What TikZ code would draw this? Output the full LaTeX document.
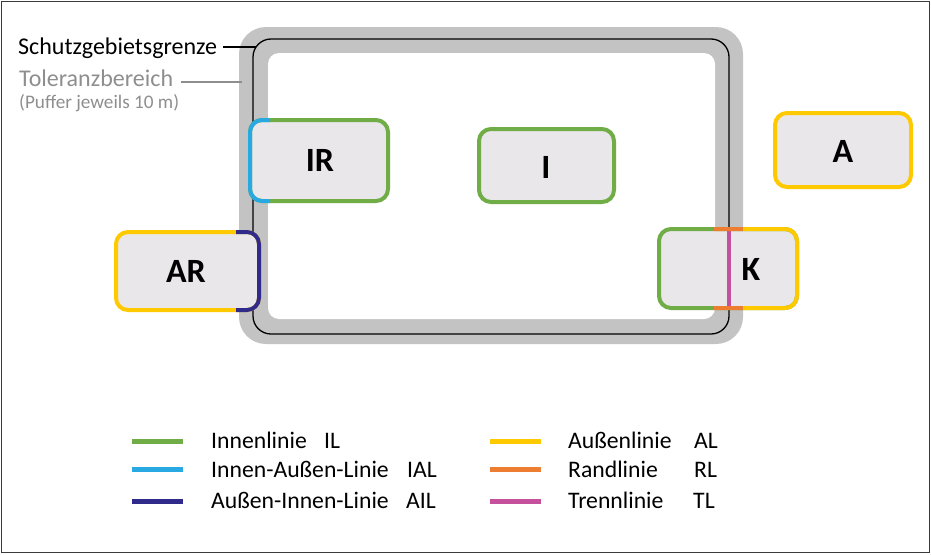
\documentclass[tikz,border=0pt]{standalone}
\usepackage{fontspec}
\setmainfont{Carlito}
\definecolor{cgreen}{HTML}{70AD47}
\definecolor{cblue}{HTML}{29A9E1}
\definecolor{cnavy}{HTML}{302A8A}
\definecolor{cyellow}{HTML}{FFC900}
\definecolor{corange}{HTML}{ED7D31}
\definecolor{cpink}{HTML}{C5509C}
\definecolor{cband}{HTML}{C3C3C3}
\definecolor{cfill}{HTML}{E9E7EA}
\definecolor{ctol}{HTML}{8E8E8E}
\definecolor{cframe}{HTML}{3A3A3A}
\begin{document}
\begin{tikzpicture}[x=1pt,y=-1pt,
  box/.style={draw, line width=4pt, fill=cfill, rounded corners=12pt, inner sep=0pt, outer sep=0pt},
  boxlabel/.style={font=\bfseries\fontsize{34}{36}\selectfont, inner sep=0pt},
  overlay/.style={line width=4pt, rounded corners=12pt},
  toplabel/.style={font=\fontsize{24}{27}\selectfont, inner sep=0pt, anchor=base west},
  legtext/.style={font=\fontsize{23.7}{26}\selectfont, inner sep=0pt, anchor=base west},
  legline/.style={line width=5pt}]
\useasboundingbox (0,0) rectangle (931,554);
\draw[cframe, line width=1.5pt] (1.5,1.5) rectangle (929.5,552.5);
% tolerance band and boundary
\fill[cband, rounded corners=27pt] (239,27) rectangle (743,344);
\fill[white, rounded corners=11pt] (268,53) rectangle (715,319);
\draw[black, line width=1.3pt, rounded corners=18pt] (253,39) rectangle (729,334);
% labels top left
\node[toplabel] (sg) at (18,54) {Schutzgebietsgrenze};
\node[toplabel, text=ctol] (tb) at (19,86) {Toleranzbereich};
\node[toplabel, text=ctol, font=\fontsize{19.2}{21}\selectfont] (pf) at (19,108) {(Puffer jeweils 10 m)};
\coordinate (sgend) at (256,47);
\coordinate (tbend) at (242,82);
\draw[black, line width=1.3pt] ([xshift=6pt,yshift=7pt]sg.base east) -- (sgend);
\draw[ctol, line width=1.3pt] ([xshift=8pt,yshift=4pt]tb.base east) -- (tbend);
% boxes
\node[box, draw=cgreen, minimum width=138pt, minimum height=81pt] (IR) at (319,160.5) {};
\node[box, draw=cgreen, minimum width=135pt, minimum height=73pt] (I) at (546.5,165.5) {};
\node[box, draw=cyellow, minimum width=136pt, minimum height=74pt] (A) at (843,150) {};
\node[box, draw=cyellow, minimum width=143pt, minimum height=78pt] (AR) at (187.5,271) {};
\node[box, draw=cgreen, minimum width=138pt, minimum height=79pt] (K) at (728,268.5) {};
% coloured border segments
\begin{scope}
\clip (0,0) rectangle (270,554);
\draw[overlay, cblue] (IR.north west) rectangle (IR.south east);
\end{scope}
\begin{scope}
\clip (236,0) rectangle (300,554);
\draw[overlay, cnavy] (AR.north west) rectangle (AR.south east);
\end{scope}
\draw[cpink, line width=4.5pt] ([xshift=1pt]K.north) -- ([xshift=1pt]K.south);
\begin{scope}
\clip (714,0) rectangle (743,554);
\draw[overlay, corange] (K.north west) rectangle (K.south east);
\end{scope}
\begin{scope}
\clip (743,0) rectangle (931,554);
\draw[overlay, cyellow] (K.north west) rectangle (K.south east);
\end{scope}
% box labels
\node[boxlabel] (IRl) at (320,160) {IR};
\node[boxlabel] (Il) at (546,167) {I};
\node[boxlabel] (Al) at (843,151) {A};
\node[boxlabel] (ARl) at (186,271) {AR};
\node[boxlabel] (Kl) at (751,269) {K};
% legend
\coordinate (l1a) at (132,441); \coordinate (l1b) at (183,441);
\coordinate (l2a) at (132,469); \coordinate (l2b) at (183,469);
\coordinate (l3a) at (132,501); \coordinate (l3b) at (183,501);
\coordinate (r1a) at (490,441); \coordinate (r1b) at (541,441);
\coordinate (r2a) at (490,469); \coordinate (r2b) at (541,469);
\coordinate (r3a) at (490,501); \coordinate (r3b) at (541,501);
\draw[legline, cgreen] (l1a) -- (l1b);
\draw[legline, cblue] (l2a) -- (l2b);
\draw[legline, cnavy] (l3a) -- (l3b);
\draw[legline, cyellow] (r1a) -- (r1b);
\draw[legline, corange] (r2a) -- (r2b);
\draw[legline, cpink] (r3a) -- (r3b);
\node[legtext] (t1) at (211,448) {Innenlinie};
\node[legtext] (t1s) at (324,448) {IL};
\node[legtext] (t2) at (211,477) {Innen-Außen-Linie};
\node[legtext] (t2s) at (407,477) {IAL};
\node[legtext] (t3) at (211,508) {Außen-Innen-Linie};
\node[legtext] (t3s) at (406,508) {AIL};
\node[legtext] (u1) at (568,448) {Außenlinie};
\node[legtext] (u1s) at (694,448) {AL};
\node[legtext] (u2) at (568,477) {Randlinie};
\node[legtext] (u2s) at (694,477) {RL};
\node[legtext] (u3) at (568,508) {Trennlinie};
\node[legtext] (u3s) at (693,508) {TL};
\end{tikzpicture}
\end{document}
